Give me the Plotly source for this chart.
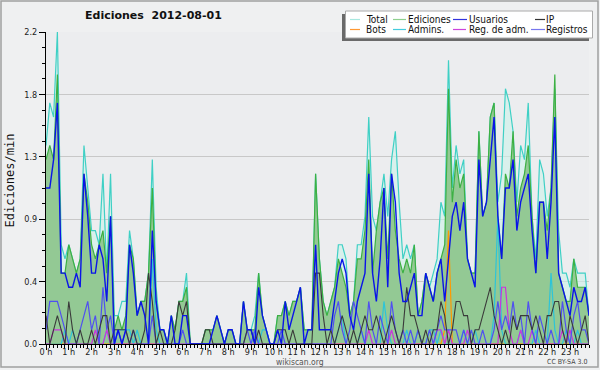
import plotly.graph_objects as go

# ---- data: 10-minute intervals, edits per minute ----
total = [1.4,1.7,1.6,2.2,0.7,0.6,0.7,0.6,0.5,0.6,
         1.4,1.1,0.8,0.8,0.7,1.2,0.5,1.2,0.2,0.2,
         0.3,0.3,0.8,0.6,0.2,0.3,0.3,0.5,1.3,0.4,
         0.1,0.1,0.0,0.2,0.1,0.3,0.3,0.5,0.0,0.0,
         0.0,0.0,0.1,0.1,0.1,0.2,0.1,0.0,0.1,0.1,
         0.0,0.0,0.3,0.1,0.1,0.2,0.5,0.2,0.1,0.0,
         0.0,0.2,0.2,0.3,0.2,0.3,0.3,0.4,0.1,0.1,
         0.1,1.2,0.6,0.3,0.2,0.3,0.4,0.7,0.7,0.6,
         0.2,0.3,0.7,0.7,0.9,1.6,0.9,0.8,1.0,1.2,
         0.9,1.3,1.5,1.0,0.6,0.7,0.6,0.7,0.2,0.3,
         0.5,0.4,0.5,0.6,1.0,0.9,2.0,1.1,1.4,1.2,
         1.3,0.6,0.5,0.5,1.5,0.9,1.0,1.6,1.7,1.0,
         1.2,1.8,1.7,1.5,1.0,1.4,1.3,1.7,0.9,0.6,
         1.3,1.2,0.9,1.1,1.8,0.8,0.5,0.5,0.4,0.6,
         0.5,0.5,0.5,0.2]

ediciones = [1.3,1.4,1.3,1.9,0.5,0.5,0.7,0.6,0.5,0.6,
             1.2,1.0,0.7,0.6,0.7,0.8,0.5,0.9,0.1,0.2,
             0.1,0.2,0.7,0.6,0.2,0.3,0.3,0.5,1.1,0.3,
             0.1,0.1,0.0,0.2,0.1,0.3,0.3,0.4,0.0,0.0,
             0.0,0.0,0.1,0.1,0.1,0.2,0.1,0.0,0.1,0.1,
             0.0,0.0,0.3,0.1,0.1,0.1,0.5,0.2,0.1,0.0,
             0.0,0.2,0.2,0.3,0.2,0.3,0.3,0.4,0.1,0.1,
             0.1,1.2,0.6,0.3,0.2,0.3,0.4,0.6,0.5,0.4,
             0.2,0.3,0.6,0.6,0.8,1.3,0.5,0.8,1.0,1.1,
             0.6,1.2,0.8,0.6,0.5,0.6,0.5,0.7,0.2,0.3,
             0.5,0.4,0.3,0.5,0.6,0.7,1.8,1.0,1.3,1.1,
             1.2,0.6,0.5,0.5,1.5,0.9,1.0,1.6,1.7,0.9,
             0.6,1.2,1.1,1.5,0.9,1.1,1.2,1.4,0.9,0.5,
             1.0,1.0,0.8,1.1,1.9,0.5,0.4,0.3,0.3,0.6,
             0.4,0.4,0.4,0.2]

usuarios = [1.1,1.1,1.3,1.7,0.5,0.5,0.4,0.4,0.5,0.4,
            1.2,0.9,0.5,0.5,0.7,0.6,0.3,0.9,0.0,0.1,
            0.0,0.1,0.7,0.5,0.2,0.3,0.2,0.0,0.8,0.3,
            0.1,0.1,0.0,0.2,0.0,0.0,0.2,0.2,0.0,0.0,
            0.0,0.0,0.0,0.0,0.1,0.2,0.1,0.0,0.1,0.1,
            0.0,0.0,0.3,0.1,0.1,0.0,0.4,0.2,0.1,0.0,
            0.0,0.1,0.0,0.3,0.1,0.2,0.3,0.4,0.0,0.1,
            0.1,0.7,0.1,0.1,0.1,0.1,0.3,0.5,0.6,0.5,
            0.2,0.1,0.3,0.4,0.5,1.2,0.5,0.3,0.6,1.1,
            0.4,1.2,1.0,0.5,0.3,0.3,0.4,0.5,0.2,0.2,
            0.5,0.4,0.3,0.5,0.6,0.3,0.6,0.9,1.0,0.8,
            1.0,0.6,0.5,0.4,1.3,0.9,1.0,1.3,1.6,0.9,
            0.6,1.1,1.1,1.3,0.8,1.0,1.1,1.2,0.8,0.5,
            1.0,1.0,0.6,1.0,1.6,0.5,0.4,0.3,0.2,0.4,
            0.3,0.3,0.4,0.2]

ip = [0.2,0.0,0.1,0.2,0.1,0.0,0.3,0.1,0.0,0.1,
      0.0,0.0,0.1,0.0,0.1,0.2,0.2,0.0,0.1,0.1,
      0.1,0.1,0.0,0.1,0.0,0.0,0.1,0.5,0.3,0.0,
      0.1,0.0,0.0,0.0,0.1,0.3,0.2,0.3,0.0,0.0,
      0.0,0.0,0.1,0.1,0.0,0.0,0.0,0.0,0.0,0.0,
      0.0,0.0,0.0,0.1,0.1,0.0,0.1,0.0,0.0,0.0,
      0.0,0.1,0.1,0.1,0.0,0.1,0.0,0.0,0.0,0.0,
      0.0,0.5,0.5,0.2,0.0,0.1,0.0,0.1,0.2,0.1,
      0.0,0.1,0.0,0.1,0.2,0.1,0.1,0.2,0.1,0.0,
      0.1,0.2,0.1,0.0,0.1,0.4,0.2,0.2,0.1,0.0,
      0.1,0.0,0.1,0.1,0.3,0.2,0.0,0.1,0.3,0.3,
      0.2,0.2,0.0,0.1,0.1,0.2,0.3,0.4,0.2,0.1,
      0.0,0.1,0.0,0.2,0.1,0.2,0.2,0.2,0.1,0.2,
      0.1,0.0,0.2,0.2,0.3,0.3,0.1,0.0,0.2,0.1,
      0.0,0.1,0.2,0.0]

bots = [0.0,0.0,0.0,0.0,0.0,0.0,0.0,0.0,0.0,0.0,
        0.0,0.0,0.0,0.0,0.0,0.0,0.0,0.0,0.0,0.0,
        0.0,0.0,0.0,0.0,0.0,0.0,0.0,0.0,0.0,0.0,
        0.0,0.0,0.0,0.0,0.0,0.0,0.0,0.0,0.0,0.0,
        0.0,0.0,0.0,0.0,0.0,0.0,0.0,0.0,0.0,0.0,
        0.0,0.0,0.0,0.0,0.0,0.0,0.0,0.0,0.0,0.0,
        0.0,0.0,0.0,0.0,0.0,0.0,0.0,0.0,0.0,0.0,
        0.0,0.0,0.0,0.0,0.0,0.0,0.0,0.0,0.0,0.0,
        0.0,0.0,0.0,0.0,0.0,0.0,0.0,0.0,0.0,0.0,
        0.0,0.0,0.0,0.0,0.0,0.0,0.0,0.0,0.0,0.0,
        0.0,0.0,0.0,0.0,0.0,0.1,0.8,0.0,0.0,0.0,
        0.0,0.0,0.0,0.0,0.0,0.0,0.0,0.0,0.0,0.0,
        0.0,0.0,0.0,0.0,0.0,0.0,0.0,0.0,0.0,0.0,
        0.0,0.0,0.0,0.0,0.0,0.0,0.0,0.0,0.0,0.0,
        0.0,0.0,0.0,0.0]

admins = [0.0,0.0,0.0,0.0,0.0,0.1,0.0,0.1,0.0,0.0,
          0.0,0.0,0.0,0.0,0.0,0.0,0.1,0.0,0.0,0.1,
          0.1,0.1,0.1,0.0,0.1,0.0,0.0,0.0,0.6,0.1,
          0.0,0.0,0.0,0.0,0.0,0.0,0.0,0.0,0.0,0.0,
          0.0,0.0,0.0,0.0,0.0,0.0,0.0,0.0,0.0,0.0,
          0.0,0.0,0.0,0.0,0.0,0.1,0.0,0.1,0.1,0.0,
          0.0,0.0,0.0,0.0,0.0,0.0,0.0,0.0,0.0,0.0,
          0.0,0.0,0.0,0.0,0.0,0.0,0.0,0.1,0.2,0.0,
          0.0,0.0,0.0,0.1,0.0,0.0,0.0,0.0,0.0,0.3,
          0.1,0.0,0.0,0.0,0.0,0.1,0.0,0.0,0.1,0.0,
          0.0,0.1,0.1,0.0,0.1,0.0,0.0,0.0,0.0,0.0,
          0.1,0.0,0.0,0.1,0.0,0.0,0.0,0.0,0.2,0.9,
          0.1,0.0,0.0,0.0,0.0,0.1,0.0,0.0,0.0,0.1,
          0.0,0.0,0.0,0.5,0.1,0.0,0.0,0.1,0.0,0.0,
          0.1,0.0,0.0,0.0]

reg_adm = [0.0,0.0,0.1,0.1,0.1,0.0,0.0,0.0,0.0,0.0,
           0.0,0.0,0.0,0.1,0.0,0.0,0.1,0.0,0.0,0.0,
           0.0,0.0,0.0,0.0,0.0,0.0,0.0,0.0,0.0,0.0,
           0.0,0.0,0.0,0.0,0.0,0.0,0.0,0.0,0.0,0.0,
           0.0,0.0,0.0,0.0,0.0,0.0,0.0,0.0,0.0,0.0,
           0.0,0.0,0.0,0.0,0.0,0.0,0.0,0.0,0.0,0.0,
           0.0,0.0,0.0,0.0,0.0,0.0,0.0,0.0,0.0,0.0,
           0.0,0.0,0.0,0.0,0.0,0.0,0.0,0.0,0.0,0.0,
           0.0,0.0,0.0,0.0,0.0,0.1,0.0,0.0,0.0,0.0,
           0.0,0.1,0.0,0.0,0.0,0.0,0.0,0.0,0.0,0.0,
           0.0,0.0,0.0,0.1,0.1,0.0,0.1,0.0,0.0,0.0,
           0.0,0.1,0.0,0.0,0.0,0.0,0.0,0.0,0.0,0.0,
           0.4,0.4,0.1,0.0,0.0,0.1,0.0,0.0,0.1,0.0,
           0.0,0.0,0.0,0.0,0.0,0.0,0.1,0.0,0.1,0.0,
           0.0,0.0,0.0,0.0]

registros = [0.1,0.3,0.3,0.3,0.2,0.1,0.0,0.0,0.0,0.1,
             0.2,0.3,0.1,0.2,0.0,0.4,0.1,0.2,0.0,0.1,
             0.0,0.1,0.0,0.1,0.0,0.0,0.0,0.0,0.2,0.0,
             0.0,0.0,0.0,0.0,0.0,0.0,0.1,0.0,0.0,0.0,
             0.0,0.0,0.0,0.0,0.0,0.0,0.0,0.0,0.0,0.0,
             0.0,0.0,0.0,0.1,0.0,0.1,0.0,0.0,0.0,0.0,
             0.0,0.0,0.1,0.0,0.0,0.0,0.0,0.0,0.0,0.0,
             0.0,0.0,0.0,0.0,0.0,0.0,0.2,0.3,0.1,0.0,
             0.1,0.3,0.2,0.1,0.0,0.3,0.1,0.0,0.2,0.1,
             0.0,0.3,0.1,0.0,0.1,0.0,0.1,0.0,0.1,0.0,
             0.0,0.1,0.0,0.1,0.2,0.1,0.1,0.1,0.1,0.0,
             0.1,0.0,0.1,0.0,0.0,0.1,0.0,0.0,0.1,0.3,
             0.1,0.2,0.1,0.3,0.1,0.2,0.0,0.3,0.1,0.0,
             0.2,0.1,0.0,0.1,0.0,0.0,0.3,0.1,0.0,0.2,
             0.3,0.1,0.1,0.0]

hours = [i / 6 for i in range(len(total))]   # time in hours (10-min steps)

y_tickvals = [0, 0.44, 0.88, 1.32, 1.76, 2.2]
y_ticktext = ["0.0", "0.4", "0.9", "1.3", "1.8", "2.2"]

legend_rows = [
    [("Total", "#a8e8e0"), ("Ediciones", "#8fd08f"), ("Usuarios", "#3333dd"), ("IP", "#333333")],
    [("Bots", "#ff9933"), ("Admins.", "#44ccdd"), ("Reg. de adm.", "#cc44dd"), ("Registros", "#7777ee")],
]

# ---- figure ----
W, H = 600, 370
ML, MR, MT, MB = 46, 11, 32, 26
PW, PH = W - ML - MR, H - MT - MB


def px(x):
    return (x - ML) / PW


def py(y):
    return (H - MB - y) / PH


fig = go.Figure()

fig.add_trace(go.Scatter(x=hours, y=total, name="Total", mode="lines", fill="tozeroy",
                         fillcolor="rgba(205,242,234,0.6)",
                         line=dict(color="#3fd0c5", width=1.2)))
fig.add_trace(go.Scatter(x=hours, y=ediciones, name="Ediciones", mode="lines", fill="tozeroy",
                         fillcolor="#93c994", line=dict(color="#3cb043", width=1.2)))
fig.add_trace(go.Scatter(x=hours, y=bots, name="Bots", mode="lines",
                         line=dict(color="#ff9900", width=1.2)))
fig.add_trace(go.Scatter(x=hours, y=admins, name="Admins.", mode="lines",
                         line=dict(color="#2ec4d8", width=1.2)))
fig.add_trace(go.Scatter(x=hours, y=reg_adm, name="Reg. de adm.", mode="lines",
                         line=dict(color="#cc33dd", width=1.2)))
fig.add_trace(go.Scatter(x=hours, y=registros, name="Registros", mode="lines",
                         line=dict(color="#5050f0", width=1.2)))
fig.add_trace(go.Scatter(x=hours, y=ip, name="IP", mode="lines",
                         line=dict(color="#3a3a3a", width=1.1)))
fig.add_trace(go.Scatter(x=hours, y=usuarios, name="Usuarios", mode="lines",
                         line=dict(color="#0a14e8", width=1.4)))

tickfont = dict(family="DejaVu Sans Condensed, DejaVu Sans", size=9, color="#222")

fig.update_layout(
    width=W, height=H,
    margin=dict(l=ML, r=MR, t=MT, b=MB, autoexpand=False),
    paper_bgcolor="#eff0f1",
    plot_bgcolor="#ecedef",
    showlegend=False,
    hovermode=False,
    xaxis=dict(range=[0, hours[-1]], tickmode="linear", tick0=0, dtick=1, ticksuffix=" h",
               ticks="outside", ticklen=5, tickcolor="black", showline=True, linecolor="black",
               linewidth=1, showgrid=False, zeroline=False, tickfont=tickfont,
               ticklabelstandoff=-6,
               minor=dict(tickmode="linear", tick0=0, dtick=1 / 6, ticks="outside", ticklen=3,
                          tickcolor="black", showgrid=False)),
    yaxis=dict(range=[0, 2.2], tickmode="array", tickvals=y_tickvals, ticktext=y_ticktext,
               ticks="outside", ticklen=6, tickcolor="black", showline=True, linecolor="black",
               linewidth=1, showgrid=True, gridcolor="#c8c8c8", gridwidth=1, zeroline=False,
               tickfont=tickfont,
               minor=dict(tickmode="linear", tick0=0, dtick=0.11, ticks="outside", ticklen=3,
                          tickcolor="black", showgrid=False)),
)

shapes = []
annotations = []

# outer frame
shapes.append(dict(type="rect", xref="paper", yref="paper", x0=px(1), x1=px(598), y0=py(367), y1=py(1),
                   line=dict(color="#a0a0a0", width=1.5), fillcolor="rgba(0,0,0,0)", layer="below"))

# legend box with shadow
shapes.append(dict(type="rect", xref="paper", yref="paper", x0=px(342), x1=px(589), y0=py(41), y1=py(14),
                   line=dict(width=0), fillcolor="#6a6a6a", layer="above"))
shapes.append(dict(type="rect", xref="paper", yref="paper", x0=px(345.5), x1=px(592.5), y0=py(38), y1=py(11),
                   line=dict(color="#aaaaaa", width=1), fillcolor="white", layer="above"))

line_x = [[(350, 360), (393, 406), (453, 467), (535, 545)],
          [(350, 360), (393, 406), (453, 466), (531, 545)]]
text_x = [[364, 406, 467, 544], [364, 406, 467, 544]]
row_y = [19.5, 29.5]
for r, row in enumerate(legend_rows):
    for c, (label, color) in enumerate(row):
        x0, x1 = line_x[r][c]
        shapes.append(dict(type="line", xref="paper", yref="paper", x0=px(x0), x1=px(x1),
                           y0=py(row_y[r]), y1=py(row_y[r]), line=dict(color=color, width=1.2),
                           layer="above"))
        annotations.append(dict(text=label, xref="paper", yref="paper", x=px(text_x[r][c]),
                                y=py(row_y[r]), xanchor="left", yanchor="middle", showarrow=False,
                                font=dict(family="DejaVu Sans Condensed, DejaVu Sans", size=10,
                                          color="#111")))

# title
annotations.append(dict(text="<b>Ediciones  2012-08-01</b>", xref="paper", yref="paper",
                        x=px(153.5), y=py(16), xanchor="center", yanchor="middle", showarrow=False,
                        font=dict(family="DejaVu Sans", size=11, color="#111")))
# y axis title
annotations.append(dict(text="Ediciones/min", xref="paper", yref="paper", x=px(9.5), y=py(181),
                        xanchor="center", yanchor="middle", showarrow=False, textangle=-90,
                        font=dict(family="DejaVu Sans Mono", size=12, color="#111")))
# footer
annotations.append(dict(text="wikiscan.org", xref="paper", yref="paper", x=px(300), y=py(362),
                        xanchor="center", yanchor="middle", showarrow=False,
                        font=dict(family="DejaVu Sans Condensed, DejaVu Sans", size=8.5, color="#555")))
annotations.append(dict(text="CC BY-SA 3.0", xref="paper", yref="paper", x=px(589), y=py(362),
                        xanchor="right", yanchor="middle", showarrow=False,
                        font=dict(family="DejaVu Sans Condensed, DejaVu Sans", size=7, color="#444")))

fig.update_layout(shapes=shapes, annotations=annotations)

fig.write_html("out.html", config={"displayModeBar": False},
               post_script="document.body.style.margin='0px';")
